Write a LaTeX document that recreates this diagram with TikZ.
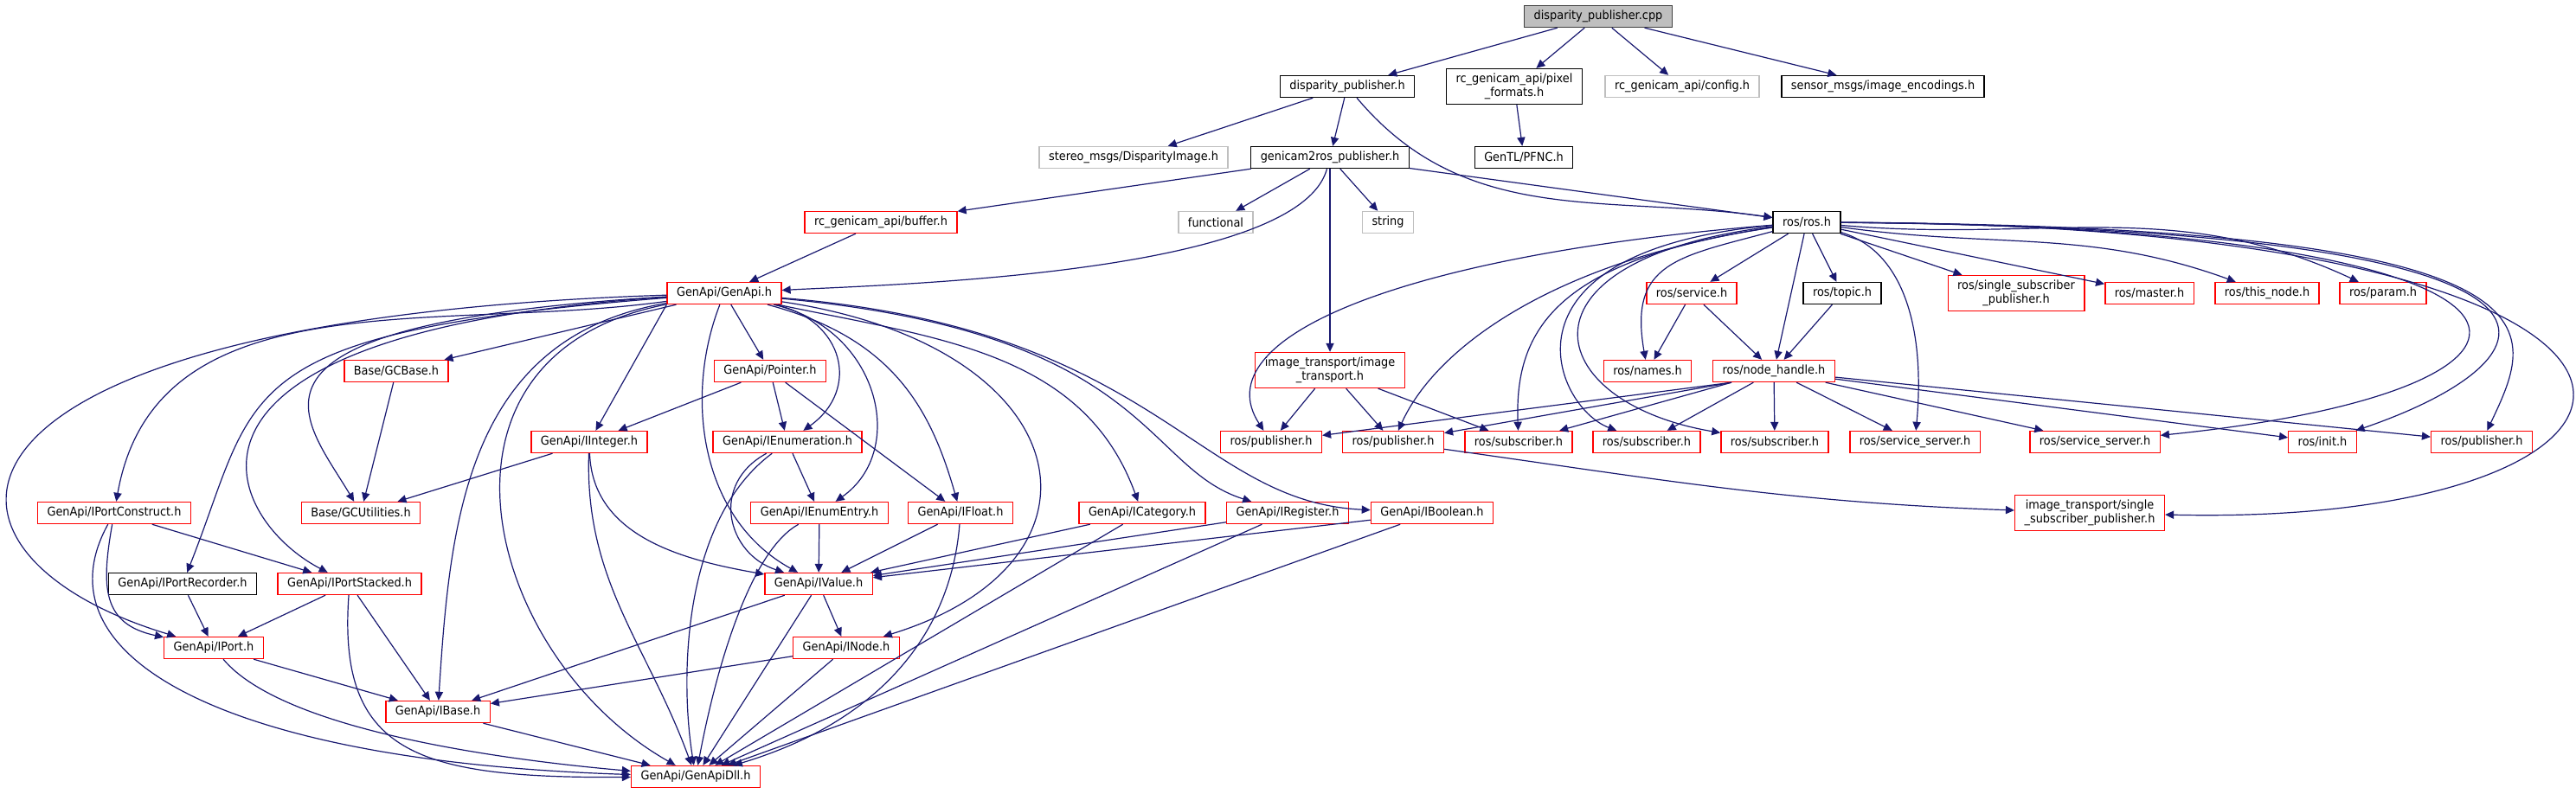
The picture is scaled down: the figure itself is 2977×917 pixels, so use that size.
\documentclass[tikz,border=0pt]{standalone}
\usepackage{fontspec}
\setmainfont{DejaVu Sans}[FakeStretch=0.92]
\usetikzlibrary{arrows.meta}
\definecolor{edgeblue}{HTML}{191970}
\definecolor{rootfill}{HTML}{BFBFBF}
\definecolor{rootdraw}{HTML}{404040}
\definecolor{extgray}{HTML}{BFBFBF}
\definecolor{truncred}{HTML}{FF0000}

\begin{document}
\begin{tikzpicture}[x=0.5pt, y=0.5pt,
    file/.style = {draw, rectangle, line width=0.7pt, font=\fontsize{7}{8}\selectfont, align=center, inner xsep=5.5pt, inner ysep=1pt, minimum height=12.5pt},
    root/.style = {file, draw=rootdraw, fill=rootfill},
    doc/.style = {file, draw=black},
    ext/.style = {file, draw=extgray},
    trunc/.style = {file, draw=truncred},
    twoline/.style = {minimum height=20.5pt},
    dep/.style = {draw=edgeblue, line width=0.6pt, -{Triangle[length=5pt, width=4.6pt]}},
    every edge/.style = {dep}]

      \useasboundingbox (0,0) rectangle (2977,-917);

      \node[root] (cpp) at (1847,-19) {disparity\_publisher.cpp};

      \node[doc] (dph) at (1557,-100) {disparity\_publisher.h};
      \node[doc, twoline] (pixfmt) at (1750,-100) {rc\_genicam\_api/pixel\\\_formats.h};
      \node[ext] (config) at (1944,-100) {rc\_genicam\_api/config.h};
      \node[doc] (enc) at (2176,-100) {sensor\_msgs/image\_encodings.h};

      \node[ext] (stereo) at (1310,-182) {stereo\_msgs/DisparityImage.h};
      \node[doc] (g2r) at (1537,-182) {genicam2ros\_publisher.h};
      \node[doc] (pfnc) at (1761,-182) {GenTL/PFNC.h};

      \node[trunc] (buffer) at (1018,-257) {rc\_genicam\_api/buffer.h};
      \node[ext] (functional) at (1405,-257) {functional};
      \node[ext] (string) at (1604,-257) {string};
      \node[doc] (ros) at (2088,-257) {ros/ros.h};

      \node[trunc] (genapi) at (837,-339) {GenApi/GenApi.h};
      \node[trunc] (service) at (1955,-339) {ros/service.h};
      \node[doc] (topic) at (2129,-339) {ros/topic.h};
      \node[trunc, twoline] (rssp) at (2330,-339) {ros/single\_subscriber\\\_publisher.h};
      \node[trunc] (master) at (2484,-339) {ros/master.h};
      \node[trunc] (thisnode) at (2620,-339) {ros/this\_node.h};
      \node[trunc] (param) at (2754,-339) {ros/param.h};

      \node[trunc] (gcbase) at (458,-429) {Base/GCBase.h};
      \node[trunc] (pointer) at (890,-429) {GenApi/Pointer.h};
      \node[trunc, twoline] (itrans) at (1537,-428) {image\_transport/image\\\_transport.h};
      \node[trunc] (names) at (1904,-429) {ros/names.h};
      \node[trunc] (nh) at (2050,-429) {ros/node\_handle.h};

      \node[trunc] (iinteger) at (681,-511) {GenApi/IInteger.h};
      \node[trunc] (ienum) at (910,-511) {GenApi/IEnumeration.h};
      \node[trunc] (pubA) at (1469,-511) {ros/publisher.h};
      \node[trunc] (pubB) at (1610,-511) {ros/publisher.h};
      \node[trunc] (subA) at (1755,-511) {ros/subscriber.h};
      \node[trunc] (subB) at (1903,-511) {ros/subscriber.h};
      \node[trunc] (subC) at (2051,-511) {ros/subscriber.h};
      \node[trunc] (servA) at (2213,-511) {ros/service\_server.h};
      \node[trunc] (servB) at (2421,-511) {ros/service\_server.h};
      \node[trunc] (init) at (2684,-511) {ros/init.h};
      \node[trunc] (pubC) at (2868,-511) {ros/publisher.h};

      \node[trunc] (iportconstruct) at (132,-593) {GenApi/IPortConstruct.h};
      \node[trunc] (gcutil) at (417,-593) {Base/GCUtilities.h};
      \node[trunc] (ienumentry) at (947,-593) {GenApi/IEnumEntry.h};
      \node[trunc] (ifloat) at (1110,-593) {GenApi/IFloat.h};
      \node[trunc] (icategory) at (1320,-593) {GenApi/ICategory.h};
      \node[trunc] (iregister) at (1488,-593) {GenApi/IRegister.h};
      \node[trunc] (iboolean) at (1655,-593) {GenApi/IBoolean.h};
      \node[trunc, twoline] (itssp) at (2415,-593) {image\_transport/single\\\_subscriber\_publisher.h};

      \node[doc] (iportrecorder) at (211,-675) {GenApi/IPortRecorder.h};
      \node[trunc] (iportstacked) at (404,-675) {GenApi/IPortStacked.h};
      \node[trunc] (ivalue) at (946,-675) {GenApi/IValue.h};

      \node[trunc] (iport) at (247,-749) {GenApi/IPort.h};
      \node[trunc] (inode) at (978,-749) {GenApi/INode.h};

      \node[trunc] (ibase) at (506,-823) {GenApi/IBase.h};

      \node[trunc] (dll) at (804,-898) {GenApi/GenApiDll.h};

      \path
      (cpp) edge (dph)
      (cpp) edge (pixfmt)
      (cpp) edge (config)
      (cpp) edge (enc)
      (dph) edge (stereo)
      (dph) edge (g2r)
      (dph) edge[out=-50, in=172] (ros)
      (pixfmt) edge (pfnc)
      (g2r) edge (buffer)
      (g2r) edge (functional)
      (g2r) edge (string)
      (g2r) edge (ros)
      (g2r) edge[out=-105, in=3, looseness=0.5] (genapi)
      (g2r) edge (itrans)
      (buffer) edge (genapi)
      ;

      \path
      (ros) edge (service)
      (ros) edge[out=195, in=100, looseness=1.4] (names)
      (ros) edge (nh)
      (ros) edge (topic)
      (ros) edge (rssp)
      (ros) edge (master)
      (ros) edge[out=-8, in=160] (thisnode)
      (ros) edge[out=-5, in=155] (param)
      (service) edge (names)
      (service) edge (nh)
      (topic) edge (nh)
      ;
      \draw[dep] (ros) .. controls (1620,-295) and (1390,-390) .. (pubA);
      \draw[dep] (ros) .. controls (1800,-300) and (1660,-400) .. (pubB);
      \draw[dep] (ros) .. controls (1800,-300) and (1750,-380) .. (subA);
      \draw[dep] (ros) .. controls (1720,-290) and (1795,-470) .. (subB);
      \draw[dep] (ros) .. controls (1740,-300) and (1780,-465) .. (subC);
      \draw[dep] (ros) .. controls (2200,-290) and (2225,-380) .. (servA);
      \draw[dep] (ros) .. controls (3020,-262) and (3020,-450) .. (servB);
      \draw[dep] (ros) .. controls (3080,-265) and (2950,-420) .. (init);
      \draw[dep] (ros) .. controls (2990,-262) and (2930,-380) .. (pubC);
      \draw[dep] (ros) .. controls (3220,-260) and (3150,-610) .. (itssp);

      \path
      ([xshift=11pt]nh.south west) edge (pubA)
      ([xshift=11pt]nh.south west) edge (pubB)
      ([xshift=11pt]nh.south west) edge (subA)
      (nh) edge (subB)
      (nh) edge (subC)
      (nh) edge (servA)
      (nh) edge (servB)
      (nh) edge (init)
      (nh) edge (pubC)
      (itrans) edge (pubA)
      (itrans) edge (pubB)
      (itrans) edge (subA)
      (pubB) edge[out=-8, in=178] (itssp)
      ;

      \path
      (genapi) edge (gcbase)
      (genapi.south west) edge (iinteger)
      (genapi) edge (pointer)
      (genapi) edge[out=188, in=80] (iportconstruct)
      (genapi) edge[out=-12, in=110] (icategory)
      (gcbase) edge (gcutil)
      (pointer) edge (iinteger)
      (pointer) edge (ienum)
      (pointer) edge (ifloat)
      (iinteger) edge (gcutil)
      (iinteger) edge[out=-88, in=170] (ivalue)
      (iinteger) edge[out=-92, in=110] (dll)
      (ienum) edge (ienumentry)
      (ienumentry) edge (ivalue)
      (ifloat) edge (ivalue)
      (icategory) edge (ivalue)
      (icategory) edge (dll)
      (iregister) edge (ivalue)
      (iregister) edge (dll)
      (iboolean) edge (ivalue)
      (iboolean) edge (dll)
      (ivalue) edge (inode)
      (ivalue) edge (ibase)
      (ivalue) edge (dll)
      (inode) edge (ibase)
      (inode) edge (dll)
      (iportconstruct) edge[out=-100, in=168, looseness=1.3] (iport)
      (iportconstruct) edge (iportstacked)
      (iportrecorder) edge (iport)
      (iportstacked) edge (iport)
      (iportstacked) edge (ibase)
      (iport) edge (ibase)
      (iport) edge[out=-50, in=175, looseness=0.6] (dll)
      (ibase) edge (dll)
      ;
      \draw[dep] (genapi) .. controls (240,-375) and (350,-480) .. (gcutil);
      \draw[dep] (genapi) .. controls (-115,-370) and (-115,-640) .. (iport);
      \draw[dep] (genapi) .. controls (260,-385) and (300,-450) .. (iportrecorder);
      \draw[dep] (genapi) .. controls (150,-385) and (260,-600) .. (iportstacked);
      \draw[dep] (genapi) .. controls (540,-390) and (520,-600) .. (ibase);
      \draw[dep] (genapi) .. controls (470,-410) and (560,-760) .. (dll);
      \draw[dep] (genapi) .. controls (790,-460) and (810,-600) .. (ivalue);
      \draw[dep] (genapi) .. controls (975,-370) and (995,-450) .. (ienum);
      \draw[dep] (genapi) .. controls (1015,-380) and (1050,-520) .. (ienumentry);
      \draw[dep] (genapi) .. controls (1030,-390) and (1075,-470) .. (ifloat);
      \draw[dep] (genapi) .. controls (1250,-400) and (1300,-650) .. (inode);
      \draw[dep] (genapi) .. controls (1330,-385) and (1320,-540) .. (iregister);
      \draw[dep] (genapi) .. controls (1340,-380) and (1380,-580) .. (iboolean);
      \draw[dep] (ienum) .. controls (820,-560) and (840,-640) .. (ivalue);
      \draw[dep] (ienum) .. controls (790,-600) and (785,-780) .. (dll);
      \draw[dep] (ienumentry) .. controls (870,-635) and (830,-760) .. (dll);
      \draw[dep] (ifloat) .. controls (1100,-720) and (1030,-830) .. (dll);
      \draw[dep] (iportconstruct) .. controls (40,-760) and (260,-880) .. (dll);
      \draw[dep] (iportstacked) .. controls (390,-870) and (480,-900) .. (dll);
    \end{tikzpicture}
\end{document}
